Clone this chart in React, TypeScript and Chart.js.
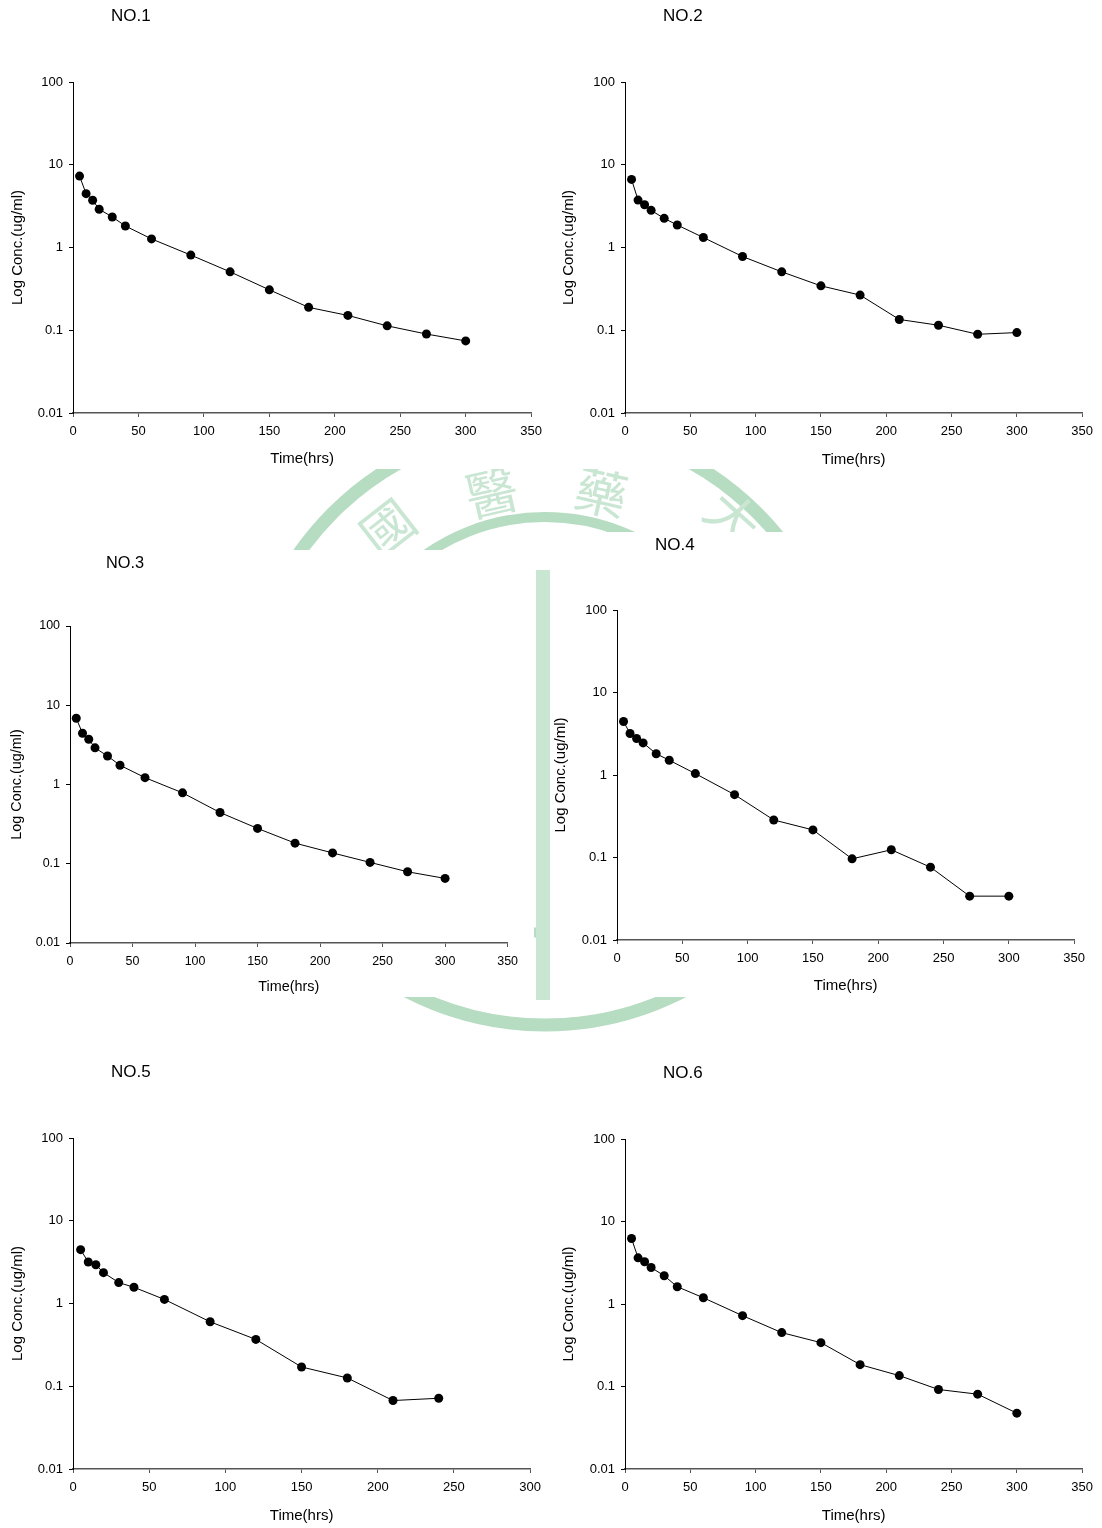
import React, { useEffect, useRef } from "react";
import { Chart, registerables } from "chart.js";

Chart.register(...registerables);

const FONT = "'Liberation Sans', Arial, Helvetica, sans-serif";
Chart.defaults.font.family = FONT;
Chart.defaults.color = "#000";

// ---------------- data ----------------
const TIMES = [5, 10, 15, 20, 30, 40, 60, 90, 120, 150, 180, 210, 240, 270, 300];
const TIMES_NO5 = [5, 10, 15, 20, 30, 40, 60, 90, 120, 150, 180, 210, 240];

const CONC_NO1 = [7.3, 4.47, 3.72, 2.9, 2.34, 1.82, 1.27, 0.81, 0.508, 0.308, 0.189, 0.151, 0.113, 0.09, 0.0743];
const CONC_NO2 = [6.65, 3.74, 3.29, 2.81, 2.25, 1.87, 1.32, 0.778, 0.508, 0.344, 0.266, 0.135, 0.115, 0.0894, 0.0937];
const CONC_NO3 = [6.85, 4.43, 3.72, 2.9, 2.29, 1.75, 1.22, 0.785, 0.443, 0.279, 0.182, 0.137, 0.104, 0.0792, 0.0653];
const CONC_NO4 = [4.45, 3.18, 2.77, 2.45, 1.81, 1.51, 1.04, 0.578, 0.285, 0.216, 0.0964, 0.124, 0.0763, 0.034, 0.034];
const CONC_NO5 = [4.47, 3.17, 2.94, 2.36, 1.79, 1.57, 1.12, 0.601, 0.368, 0.171, 0.126, 0.0672, 0.0716];
const CONC_NO6 = [6.22, 3.63, 3.25, 2.77, 2.2, 1.62, 1.19, 0.722, 0.45, 0.34, 0.184, 0.1355, 0.092, 0.0807, 0.0475];

const Y_TICKS = [0.01, 0.1, 1, 10, 100];
const X_STEP = 50;
const X_MAX_DEFAULT = 350;
const X_MAX_NO5 = 300;

const X_TITLE = "Time(hrs)";
const Y_TITLE = "Log Conc.(ug/ml)";

// ---------------- layout (positions only) ----------------
type PanelCfg = {
  title: string;
  times: number[];
  conc: number[];
  xMax: number;
  plot: [number, number, number, number]; // left, top, right, bottom
  yTitleX: number;
  xTitleY: number;
  titleDx: number;
  titleDy: number;
  fs: number;
};

const PANELS: PanelCfg[] = [
  { title: "NO.1", times: TIMES, conc: CONC_NO1, xMax: X_MAX_DEFAULT, plot: [73, 82, 533, 413], yTitleX: 18, xTitleY: 459, titleDx: 38, titleDy: -66, fs: 1 },
  { title: "NO.2", times: TIMES, conc: CONC_NO2, xMax: X_MAX_DEFAULT, plot: [625, 82, 1084, 413], yTitleX: 569, xTitleY: 460, titleDx: 38, titleDy: -66, fs: 1 },
  { title: "NO.3", times: TIMES, conc: CONC_NO3, xMax: X_MAX_DEFAULT, plot: [70, 626, 509, 943], yTitleX: 17, xTitleY: 987, titleDx: 36, titleDy: -63, fs: 0.96 },
  { title: "NO.4", times: TIMES, conc: CONC_NO4, xMax: X_MAX_DEFAULT, plot: [617, 610, 1076, 940], yTitleX: 561, xTitleY: 986, titleDx: 38, titleDy: -65, fs: 1 },
  { title: "NO.5", times: TIMES_NO5, conc: CONC_NO5, xMax: X_MAX_NO5, plot: [73, 1138, 532, 1469], yTitleX: 18, xTitleY: 1516, titleDx: 38, titleDy: -66, fs: 1 },
  { title: "NO.6", times: TIMES, conc: CONC_NO6, xMax: X_MAX_DEFAULT, plot: [625, 1139, 1084, 1469], yTitleX: 569, xTitleY: 1516, titleDx: 38, titleDy: -66, fs: 1 },
];

const panelTitlePlugin = {
  id: "panelTitle",
  afterDraw(chart: any, _args: any, opts: any) {
    const { ctx, chartArea } = chart;
    ctx.save();
    ctx.font = `${opts.size}px ${FONT}`;
    ctx.fillStyle = "#000";
    ctx.textAlign = "left";
    ctx.textBaseline = "middle";
    ctx.fillText(opts.text, chartArea.left + opts.dx, chartArea.top + opts.dy);
    ctx.restore();
  },
};

function Panel({ cfg }: { cfg: PanelCfg }) {
  const ref = useRef<HTMLCanvasElement | null>(null);
  const [PL, PT, PR, PB] = cfg.plot;
  const padTop = 80;
  const padRight = 16;
  const CL = Math.round(cfg.yTitleX - 9);
  const Wy = PL - CL;
  const CT = PT - padTop;
  const Hx = cfg.xTitleY + 9 - PB;
  const W = PR + padRight - CL;
  const H = PB + Hx - CT;

  useEffect(() => {
    if (!ref.current) return;
    const tickFont = { size: 13 * cfg.fs };
    const titleFont = { size: 15 * cfg.fs, lineHeight: 18 / (15 * cfg.fs) };
    const chart = new Chart(ref.current, {
      type: "scatter",
      data: {
        datasets: [
          {
            data: cfg.times.map((t, i) => ({ x: t, y: cfg.conc[i] })),
            showLine: true,
            borderColor: "#000",
            borderWidth: 1,
            backgroundColor: "#000",
            pointBackgroundColor: "#000",
            pointBorderWidth: 0,
            pointRadius: 4.5,
            pointHoverRadius: 4.5,
            tension: 0,
          } as any,
        ],
      },
      options: {
        responsive: false,
        animation: false,
        devicePixelRatio: 1,
        events: [],
        layout: { padding: { top: padTop, right: padRight, left: 0, bottom: 0 } },
        plugins: {
          legend: { display: false },
          tooltip: { enabled: false },
          title: { display: false },
          panelTitle: { text: cfg.title, dx: cfg.titleDx, dy: cfg.titleDy, size: 17 * cfg.fs },
        } as any,
        scales: {
          x: {
            type: "linear",
            min: 0,
            max: cfg.xMax,
            ticks: { stepSize: X_STEP, color: "#000", font: tickFont, padding: 7, maxRotation: 0, autoSkip: false },
            grid: { display: true, drawOnChartArea: false, drawTicks: true, tickLength: 4, color: "#555", lineWidth: 1 },
            border: { display: true, color: "#555", width: 1.5 },
            title: { display: true, text: X_TITLE, color: "#000", font: titleFont, padding: 0 },
            afterFit: (s: any) => {
              s.height = Hx;
            },
          },
          y: {
            type: "logarithmic",
            min: 0.01,
            max: 100,
            afterBuildTicks: (s: any) => {
              s.ticks = Y_TICKS.map((v) => ({ value: v }));
            },
            ticks: {
              color: "#000",
              font: tickFont,
              padding: 6,
              autoSkip: false,
              callback: (v: any) => String(Number(v)),
            },
            grid: { display: true, drawOnChartArea: false, drawTicks: true, tickLength: 4, color: "#000", lineWidth: 1 },
            border: { display: true, color: "#000", width: 1 },
            title: { display: true, text: Y_TITLE, color: "#000", font: titleFont, padding: 0 },
            afterFit: (s: any) => {
              s.width = Wy;
            },
          },
        } as any,
      },
      plugins: [panelTitlePlugin],
    });
    return () => chart.destroy();
  }, []);

  return (
    <canvas
      ref={ref}
      width={W}
      height={H}
      style={{ position: "absolute", left: CL, top: CT, width: W, height: H, display: "block" }}
    />
  );
}

function Watermark() {
  const ring = "#b6dcc2";
  const soft = "#c9e6d2";
  const cx = 545;
  const cy = 725;
  const chars: [string, number, number, number][] = [
    ["國", 386, 525, -38],
    ["醫", 491, 490, -13],
    ["藥", 602, 490, 13],
    ["大", 735, 516, 42],
  ];
  return (
    <svg width={1102} height={1528} style={{ position: "absolute", left: 0, top: 0 }}>
      <defs>
        <clipPath id="wmclip">
          <rect x={270} y={469} width={545} height={63} />
          <rect x={270} y={532} width={280} height={18} />
          <rect x={534} y={550} width={16} height={447} />
          <rect x={390} y={997} width={350} height={38} />
        </clipPath>
      </defs>
      <g clipPath="url(#wmclip)">
        <circle cx={cx} cy={cy} r={300} fill="none" stroke={ring} strokeWidth={13} />
        <circle cx={cx} cy={cy} r={208} fill="none" stroke={ring} strokeWidth={10} />
        <rect x={536} y={570} width={14} height={430} fill={soft} />
        {chars.map(([c, x, y, r]) => (
          <text
            key={c}
            x={x}
            y={y}
            fontSize={52}
            fontWeight={400}
            fontFamily="'Noto Sans CJK TC', sans-serif"
            fill={soft}
            textAnchor="middle"
            dominantBaseline="central"
            transform={`rotate(${r} ${x} ${y})`}
          >
            {c}
          </text>
        ))}
      </g>
    </svg>
  );
}

export default function App() {
  return (
    <div
      style={{
        position: "absolute",
        left: 0,
        top: 0,
        width: 1102,
        height: 1528,
        overflow: "hidden",
        background: "#fff",
      }}
    >
      <Watermark />
      {PANELS.map((p) => (
        <Panel key={p.title} cfg={p} />
      ))}
    </div>
  );
}
